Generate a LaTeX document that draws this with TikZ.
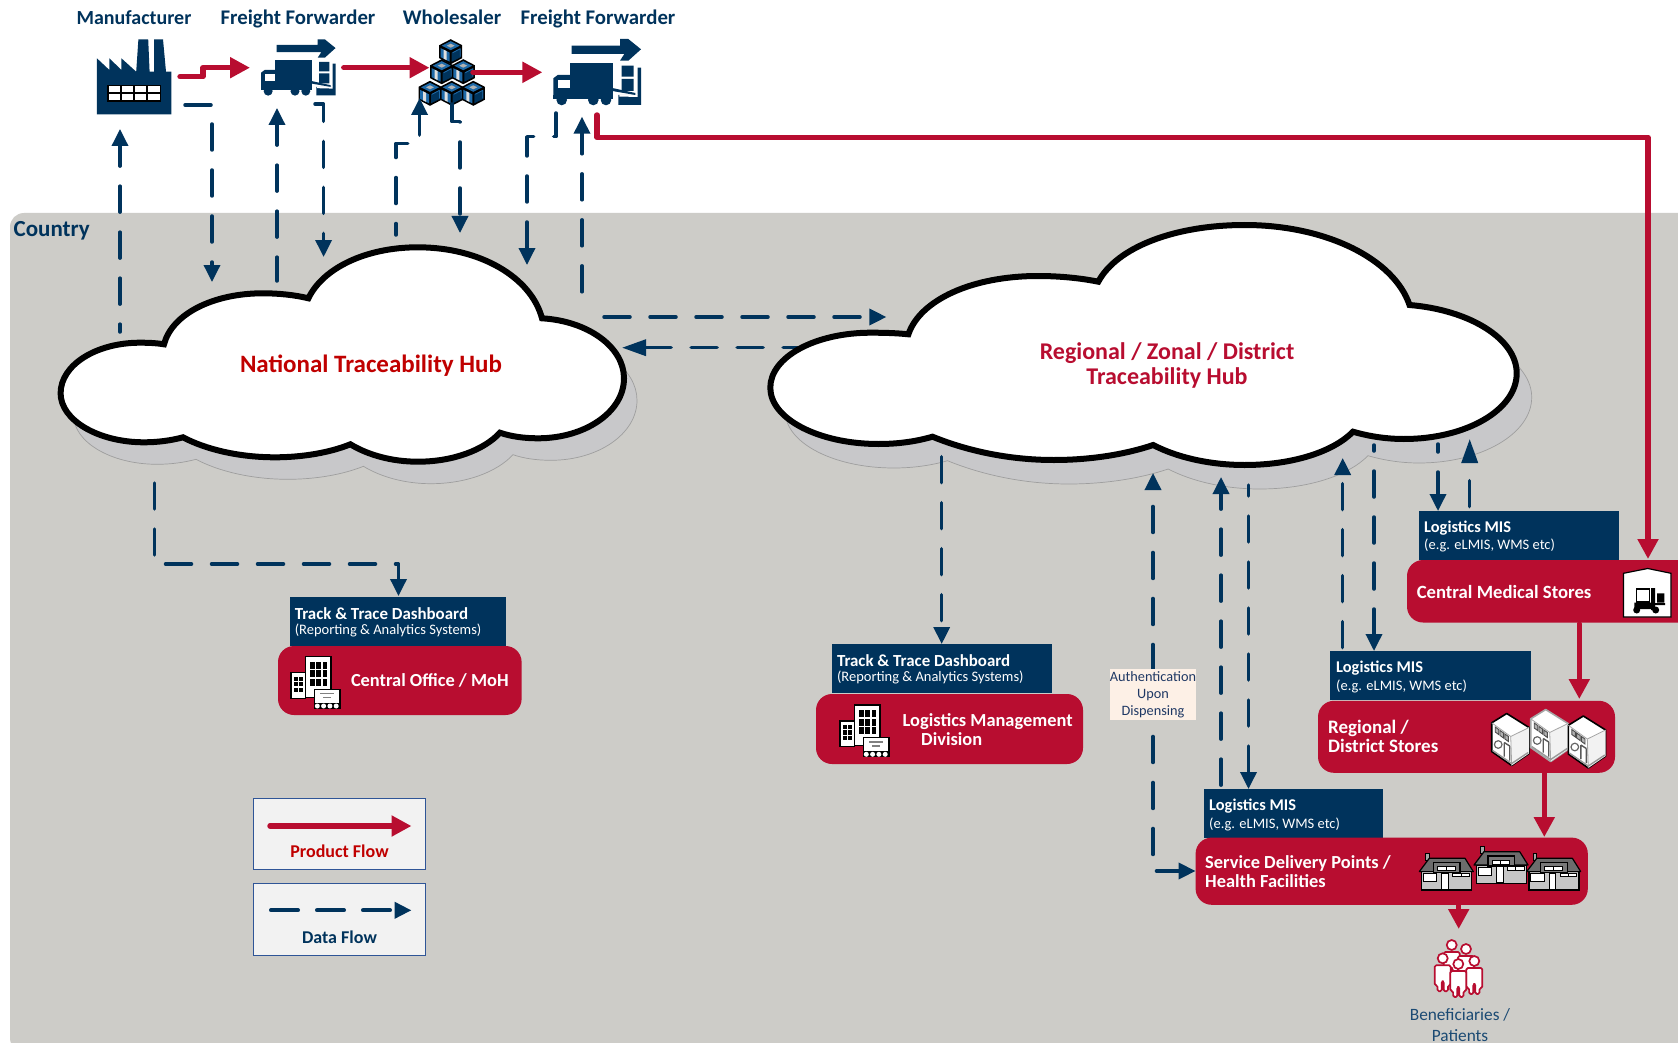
\documentclass[tikz,border=0pt]{standalone}
\usepackage{fontspec}
\setmainfont{Carlito}
\usetikzlibrary{arrows.meta}
\definecolor{navy}{HTML}{00335C}
\definecolor{crim}{HTML}{B80D30}
\definecolor{hubred}{HTML}{C00000}
\definecolor{bggray}{HTML}{CDCCC8}
\definecolor{shad}{HTML}{C8C8CA}
\definecolor{textblue}{HTML}{1F3864}
\definecolor{benblue}{HTML}{1B4A73}
\definecolor{authbg}{HTML}{FDF0E6}
\definecolor{legbg}{HTML}{F2F2F2}
\definecolor{legline}{HTML}{2F5597}
\definecolor{crateblue}{HTML}{1F6AA8}
\newcommand{\fs}[1]{\fontsize{#1}{#1}\selectfont}
\newcommand{\titlefs}{\bfseries\fontsize{16.9}{16.9}\selectfont}
\newcommand{\misfs}{\bfseries\fontsize{16.4}{16.4}\selectfont}
\newcommand{\subfs}{\mdseries\fontsize{14.5}{14.5}\selectfont}
\tikzset{
  x=1pt,y=-1pt,
  navyTip/.tip={Triangle[length=17pt,width=16pt]},
  longTip/.tip={Triangle[length=24pt,width=16pt]},
  redTip/.tip={Triangle[length=20pt,width=20pt]},
  dataflow/.style={draw=navy,line width=3.5pt,line cap=round,line join=round,dash pattern=on 26pt off 20pt},
  prodflow/.style={draw=crim,line width=5.4pt,line cap=round,line join=round},
  cornerbox/.style={anchor=north west,inner sep=0pt,outer sep=0pt},
  navybox/.style={cornerbox,fill=navy},
  redbox/.style={cornerbox,fill=crim,rounded corners=16pt},
  legbox/.style={cornerbox,fill=legbg,draw=legline,line width=1pt},
  toplabel/.style={inner sep=0pt,text=navy,font=\bfseries\fs{20.8}},
  boxtext/.style={anchor=west,inner sep=0pt,text=white,align=left},
  redtext/.style={anchor=west,inner sep=0pt,text=white,align=left,font=\bfseries\fontsize{18.4}{19}\selectfont},
  hubtext/.style={inner sep=0pt,align=center},
  cloudshadow/.style={fill=shad,draw=black!38,line width=.7pt},
  cloudface/.style={fill=white,draw=black,line width=6pt,miter limit=4}
}
% icons are drawn in local pixel coordinates
\newcommand{\truckicon}[3]{\begin{scope}[shift={(#1,#2)},scale=#3]
  \fill[navy] (18.4,6.7)--(66.7,6.7)--(66.7,0)--(75,0)--(87.7,10.3)--(75,21.7)--(66.7,21.7)--(71,15)--(18.4,15)--cycle;
  \fill[navy] (16.7,24.3) rectangle (60,57.7);
  \fill[navy] (0,57.7)--(0,39.3)--(4.4,36)--(16.7,36)--(16.7,57.7)--cycle;
  \fill[white] (5,41)--(16.7,41)--(16.7,49.3)--(5,49.3)--cycle;
  \fill[navy] (0,56) rectangle (60,60);
  \fill[navy] (8.4,61) circle (5.3) (40,61) circle (5.3) (52.7,61) circle (5.3);
  \fill[navy] (68.4,26.7) rectangle (80.4,37.7) (68.4,40) rectangle (80.4,52);
  \fill[navy] (84.4,28.7) rectangle (87.7,66) (65,56) rectangle (87.7,66);
  \fill[white] (66,55.5)--(84.4,55.5)--(84.4,58)--(66,57.5)--cycle;
  \fill[navy] (59,49)--(82,54)--(82,56)--(59,52)--cycle;
\end{scope}}
\newcommand{\crate}[2]{\begin{scope}[shift={(#1,#2)}]
  \fill[black] (0,-12.5)--(11.5,-6.5)--(11.5,6.5)--(0,12.5)--(-11.5,6.5)--(-11.5,-6.5)--cycle;
  \fill[crateblue] (0,-10.5)--(9,-6)--(0,-1.5)--(-9,-6)--cycle;
  \fill[gray!60] (0,-8)--(4,-6)--(0,-4)--(-4,-6)--cycle;
  \fill[crateblue] (-10,-3.5)--(-1,1)--(-1,10)--(-10,5.5)--cycle;
  \fill[gray!25] (-7,-2)--(-4,-.5)--(-4,8.5)--(-7,7)--cycle;
  \fill[navy] (1,1)--(10,-3.5)--(10,5.5)--(1,10)--cycle;
  \draw[crateblue,line width=.8pt] (2,1)--(9.5,-3) (9.5,-3)--(9.5,5);
\end{scope}}
\newcommand{\officeicon}[2]{\begin{scope}[shift={(#1,#2)}]
  \draw[fill=white,line width=1.5pt] (14.7,0) rectangle (40,40.6);
  \draw[fill=white,line width=1.5pt] (0,16) rectangle (14.7,41.6);
  \foreach \a in {19,25.3,31.6}\foreach \b in {5,13.7,22.4}{\fill[black] (\a,\b) rectangle +(4.6,7);}
  \foreach \a in {3,8}\foreach \b in {20,25.4,30.8}{\fill[black] (\a,\b) rectangle +(3.7,4.2);}
  \draw[fill=white,line width=1.5pt] (23.3,32.6) rectangle (49,46.6);
  \draw[gray,line width=1.4pt] (29,37)--(43,37) (32,41)--(40,41);
  \fill[black] (23,46) rectangle (49.5,51.8);
  \foreach \a in {26.3,32.6,38.9,45.2}{\fill[white] (\a,49.3) circle (2.5);}
\end{scope}}
\newcommand{\storeicon}[3]{\begin{scope}[shift={(#1,#2)}]
  \draw[fill=white,draw=#3,line width=1.6pt,line join=round] (15,0)--(37.3,14)--(37.3,40)--(20,52)--(0,38)--(0,9.3)--cycle;
  \fill[gray!10] (19,23)--(37.3,14)--(37.3,40)--(20,52)--cycle;
  \draw[gray!70,line width=.8pt] (0,9.3)--(19,23)--(37.3,14) (19,23)--(20,52);
  \foreach \a in {3.5,8.3,13.1}{\draw[black!70,line width=.9pt,fill=gray!60] (\a,{13.5+(\a-3.5)*.72}) -- ++(3.6,2.6) -- ++(0,5) -- ++(-3.6,-2.6)--cycle;}
  \draw[black!60,line width=1.2pt] (6.5,31) circle (3.8);
  \draw[black!65,line width=1.4pt] (12.5,29)--(12.5,43) (18,32.5)--(18,47) (12.5,29)--(18,32.5);
  \draw[gray!80,line width=1.4pt] (1,37)--(20,50)--(36.5,39);
\end{scope}}
\newcommand{\houseicon}[2]{\begin{scope}[shift={(#1,#2)}]
  \draw[fill=gray!70,line width=1pt] (6.3,0) rectangle (10,7);
  \draw[fill=gray!45,line width=1.2pt] (2.3,18.3) rectangle (52.3,36.7);
  \draw[fill=gray!85!black,line width=1.2pt,line join=round] (0,18.3)--(10,5)--(45.7,5)--(54,18.3)--cycle;
  \draw[fill=gray!95!black,line width=1.2pt] (14,9.3) rectangle (40.7,19.3);
  \draw[fill=white,line width=.8pt] (18,13.3) rectangle (35.7,17.3);
  \draw[line width=.8pt] (26.8,13.3)--(26.8,17.3);
  \draw[fill=white,line width=1pt] (4,20.5) rectangle (17.3,28.5);
  \draw[fill=white,line width=1pt] (22.3,20) rectangle (29,36);
  \draw[fill=white,line width=1pt] (33.3,19.8) rectangle (50,23.6);
  \draw[line width=.8pt] (41.6,19.8)--(41.6,23.6);
\end{scope}}
\newcommand{\personicon}[2]{\begin{scope}[shift={(#1,#2)}]
  \draw[crim,fill=white,line width=1.7pt,rounded corners=1.5pt,line join=round] (-8,7)--(8,7)--(8,27)--(5.2,27)--(5.2,33)--(1,33)--(1,23)--(-1,23)--(-1,33)--(-5.2,33)--(-5.2,27)--(-8,27)--cycle;
  \draw[crim,fill=white,line width=1.7pt] (0,0) circle (5);
\end{scope}}
\def\cloudA{(164,344.3) .. controls (156,343) and (148,342.7) .. (140,342.7) .. controls (96,342.7) and (60.6,365) .. (60.6,393.3) .. controls (60.6,420) and (98,442.3) .. (144,442.3) .. controls (158,442.3) and (171,440.5) .. (183,437.3) .. controls (205,449) and (238,457.3) .. (275,457.3) .. controls (303,457.3) and (330,452.5) .. (350.4,444.3) .. controls (368,455) and (392,461.7) .. (417.8,461.7) .. controls (453,461.7) and (484,450) .. (500,432.7) .. controls (511,436.5) and (524,438.3) .. (538,438.3) .. controls (585,438.3) and (624,412) .. (624,378.3) .. controls (624,347) and (588,321) .. (542,318.3) .. controls (531,277) and (480,247.3) .. (417.8,247.3) .. controls (366,247.3) and (323,268) .. (308.4,298.3) .. controls (295,295) and (279,293.3) .. (262.7,293.3) .. controls (213,293.3) and (172,314) .. (164,344.3) -- cycle}
\def\cloudB{(908.4,334.3) .. controls (896,333) and (883,332.7) .. (870.8,332.7) .. controls (815,332.7) and (770.3,357) .. (770.3,387.7) .. controls (770.3,419) and (819,444) .. (878.6,444) .. controls (898,444) and (916,441.5) .. (932.5,436.7) .. controls (965,450) and (1007,460) .. (1053.8,460) .. controls (1090,460) and (1125,454.5) .. (1153.2,445) .. controls (1176,457) and (1209,465) .. (1244.7,465) .. controls (1292,465) and (1333,452) .. (1353,431.7) .. controls (1368,436) and (1385,439) .. (1404,439) .. controls (1466,439) and (1516.7,410) .. (1516.7,373.3) .. controls (1516.7,339) and (1470,310) .. (1409.5,305) .. controls (1394,259) and (1326,225) .. (1244.7,225) .. controls (1175,225) and (1117,247) .. (1098.3,281.7) .. controls (1080,278) and (1059,276) .. (1038,276) .. controls (972,276) and (920,300) .. (908.4,334.3) -- cycle}
\begin{document}
\begin{tikzpicture}
\useasboundingbox (0,0) rectangle (1678,1043);
\clip (0,0) rectangle (1678,1043);
\fill[white] (0,0) rectangle (1678,1043);
\fill[bggray,rounded corners=14pt] (10,213) rectangle (1720,1052);
\node[anchor=west,inner sep=0pt,text=navy,font=\bfseries\fs{23}] (country) at (13.5,231) {Country};

% anchor points of the connectors
\coordinate (d1a) at (120,129); \coordinate (d1b) at (120,332);
\coordinate (d2a) at (185,105); \coordinate (d2c) at (212,105); \coordinate (d2b) at (212,282);
\coordinate (d3a) at (277,108); \coordinate (d3b) at (277,281);
\coordinate (d4a) at (315,104); \coordinate (d4c) at (323.6,104); \coordinate (d4b) at (323.6,257);
\coordinate (d5a) at (419.6,98); \coordinate (d5c) at (419.6,143.3); \coordinate (d5d) at (396,143.3); \coordinate (d5b) at (396,235);
\coordinate (d6a) at (452,104); \coordinate (d6c) at (452,121.7); \coordinate (d6d) at (460,121.7); \coordinate (d6b) at (460,233);
\coordinate (d7a) at (556,113); \coordinate (d7c) at (556,136.7); \coordinate (d7d) at (527,136.7); \coordinate (d7b) at (527,265);
\coordinate (d8a) at (582,116.7); \coordinate (d8b) at (582,296);
\coordinate (d9a) at (604,317); \coordinate (d9b) at (886.4,317);
\coordinate (d10a) at (622,347.7); \coordinate (d10b) at (800,347.7);
\coordinate (d11a) at (154.5,483); \coordinate (d11c) at (154.5,564); \coordinate (d11d) at (398.5,564); \coordinate (d11b) at (398.5,596);
\coordinate (d12a) at (941.7,456.7); \coordinate (d12b) at (941.7,644);
\coordinate (d13a) at (1195.6,871); \coordinate (d13c) at (1153,871); \coordinate (d13b) at (1153,473);
\coordinate (d14a) at (1221,477); \coordinate (d14b) at (1221,789);
\coordinate (d15a) at (1248.5,485); \coordinate (d15b) at (1248.5,789);
\coordinate (d16a) at (1342.7,458); \coordinate (d16b) at (1342.7,651);
\coordinate (d17a) at (1374,445); \coordinate (d17b) at (1374,651);
\coordinate (d18a) at (1438,444); \coordinate (d18b) at (1438,511);
\coordinate (d19a) at (1469.7,439); \coordinate (d19b) at (1469.7,511);
\coordinate (p1a) at (180,76.7); \coordinate (p1c) at (203,76.7); \coordinate (p1d) at (203,67.7); \coordinate (p1b) at (250,67.7);
\coordinate (p2a) at (343.8,67.7); \coordinate (p2b) at (429.5,67.7);
\coordinate (p3a) at (473,72.3); \coordinate (p3b) at (542.4,72.3);
\coordinate (p4a) at (597,115); \coordinate (p4c) at (597,137.3); \coordinate (p4d) at (1648,137.3); \coordinate (p4b) at (1648,559);
\coordinate (p5a) at (1579.3,624); \coordinate (p5b) at (1579.3,699);
\coordinate (p6a) at (1544.3,773); \coordinate (p6b) at (1544.3,837);
\coordinate (p7a) at (1458.7,905); \coordinate (p7b) at (1458.7,929);

% link drawn behind the regional hub
\draw[dataflow,longTip-] (d10a) -- (d10b);

% hubs
\draw[cloudshadow,shift={(13,22)}] \cloudA;
\draw[cloudface] \cloudA;
\draw[cloudshadow,shift={(15,24)}] \cloudB;
\draw[cloudface] \cloudB;
\node[hubtext,text=hubred,font=\bfseries\fontsize{25}{25}\selectfont] (hub1) at (371,366) {National Traceability Hub};
\node[hubtext,text=crim,font=\bfseries\fontsize{24}{25}\selectfont] (hub2) at (1167,365.5) {Regional / Zonal / District\\Traceability Hub};

% top labels
\node[toplabel,font=\bfseries\fs{20}] (lmfg) at (134,18) {Manufacturer};
\node[toplabel] (lff1) at (298,19) {Freight Forwarder};
\node[toplabel] (lwhl) at (452,17) {Wholesaler};
\node[toplabel] (lff2) at (598,19) {Freight Forwarder};

% factory
\fill[navy] (96.9,58.3)--(109.4,70)--(109.4,58.3)--(121.4,70)--(121.4,58.3)--(136.2,71.7)--(138.4,39.3)--(148.2,39.3)--(149.6,71.7)--(154,71.7)--(154,39.3)--(163,39.3)--(166,71.7)--(171.4,71.7)--(171.4,114.3)--(96.9,114.3)--cycle;
\fill[black] (107.1,85) rectangle (160.7,101.7);
\foreach \a in {108.6,121.8,135,148.2}\foreach \b in {86.5,94.3}{\fill[white] (\a,\b) rectangle +(11.4,6);}

% trucks and crates
\truckicon{261}{39.3}{.85}
\truckicon{553.3}{39}{1}
\crate{450.7}{51.7}
\crate{441.7}{71.7}\crate{463.3}{71.7}
\crate{430}{93.3}\crate{451.7}{93.3}\crate{473.3}{93.3}

% navy and red boxes
\node[navybox,minimum width=216.4pt,minimum height=49pt] (tt1) at (290,597) {};
\node[redbox,minimum width=243.6pt,minimum height=69pt] (co) at (278,646) {};
\node[boxtext] (tt1t) at (294.6,622.3) {\titlefs Track \& Trace Dashboard\\[3.2pt]\subfs (Reporting \& Analytics Systems)};
\node[redtext] (cot) at (350.8,680.7) {Central Office / MoH};
\officeicon{291}{656.7}

\node[navybox,minimum width=220.2pt,minimum height=49pt] (tt2) at (832,644) {};
\node[redbox,minimum width=267pt,minimum height=70pt] (lmd) at (816,694) {};
\node[boxtext] (tt2t) at (836.8,669.3) {\titlefs Track \& Trace Dashboard\\[3.2pt]\subfs (Reporting \& Analytics Systems)};
\node[redtext] (lmdt) at (902.5,730) {Logistics Management\\\hspace*{18.5pt}Division};
\officeicon{840}{705}

\node[navybox,minimum width=200pt,minimum height=49pt] (mis1) at (1418.5,511) {};
\node[redbox,minimum width=290pt,minimum height=62.5pt] (cms) at (1407,560) {};
\node[boxtext] (mis1t) at (1424,536.7) {\misfs Logistics MIS\\[2.4pt]\subfs (e.g. eLMIS, WMS etc)};
\node[redtext,font=\bfseries\fontsize{18.7}{19}\selectfont] (cmst) at (1416.6,591.7) {Central Medical Stores};
\draw[fill=white,line width=1.2pt,line join=miter] (1623.5,573.3)--(1647.7,568.5)--(1671,573.3)--(1671,617)--(1623.5,617)--cycle;
\draw[black,line width=1.8pt] (1636.5,589) rectangle (1649.5,602);
\fill[black] (1651,588) rectangle (1655,610) (1657,593.3) rectangle (1664.3,602.7) (1634.3,602.7) rectangle (1655,609) (1655,603) rectangle (1665,605);
\fill[black] (1636.7,610) circle (3.5) (1655.7,610) circle (3.5);

\node[navybox,minimum width=200.3pt,minimum height=49pt] (mis2) at (1330.3,651) {};
\node[redbox,minimum width=297pt,minimum height=72pt] (rds) at (1318,700.8) {};
\node[boxtext] (mis2t) at (1336,676.7) {\misfs Logistics MIS\\[4pt]\subfs (e.g. eLMIS, WMS etc)};
\node[redtext,font=\bfseries\fontsize{19}{19}\selectfont] (rdst) at (1328,736.3) {Regional /\\District Stores};
\storeicon{1491.7}{713.5}{black}
\storeicon{1530.7}{709.5}{gray!70}
\storeicon{1568.3}{716}{black}

\node[navybox,minimum width=179.4pt,minimum height=49pt] (mis3) at (1204,789) {};
\node[redbox,minimum width=392.2pt,minimum height=67.2pt] (sdp) at (1195.6,837.6) {};
\node[boxtext] (mis3t) at (1209,814.7) {\misfs Logistics MIS\\[4pt]\subfs (e.g. eLMIS, WMS etc)};
\node[redtext] (sdpt) at (1205,871.3) {Service Delivery Points /\\Health Facilities};
\houseicon{1474}{846.7}
\houseicon{1419.3}{853.3}
\houseicon{1526.7}{853.3}

% beneficiaries
\personicon{1451.7}{945}\personicon{1466}{949}
\personicon{1442.7}{958.3}\personicon{1474.3}{961}
\personicon{1458.3}{964}
\node[inner sep=0pt,align=center,text=benblue,font=\fontsize{17.3}{21}\selectfont] (ben) at (1460,1025.5) {Beneficiaries /\\Patients};

% legend
\node[legbox,minimum width=171.4pt,minimum height=71pt] (leg1) at (253.6,798.3) {};
\node[legbox,minimum width=171.9pt,minimum height=72.3pt] (leg2) at (253.6,883) {};
\coordinate (l1a) at (270,826); \coordinate (l1b) at (411.5,826);
\coordinate (l2a) at (271,910.3); \coordinate (l2b) at (411.5,910.3);
\draw[prodflow,-redTip] (l1a) -- (l1b);
\draw[dataflow,line width=4pt,dash pattern=on 27pt off 19pt,-navyTip] (l2a) -- (l2b);
\node[inner sep=0pt,text=hubred,font=\bfseries\fs{18}] (lp) at (339.5,851.5) {Product Flow};
\node[inner sep=0pt,text=navy,font=\bfseries\fs{18}] (ld) at (339.5,937.5) {Data Flow};

% data flow connectors
\draw[dataflow,dash phase=5pt,navyTip-] (d1a) -- (d1b);
\draw[dataflow,-navyTip] (d2a) -- (d2c) -- (d2b);
\draw[dataflow,dash phase=5pt,navyTip-] (d3a) -- (d3b);
\draw[dataflow,-navyTip] (d4a) -- (d4c) -- (d4b);
\draw[dataflow,dash phase=5pt,navyTip-] (d5a) -- (d5c) -- (d5d) -- (d5b);
\draw[dataflow,-navyTip] (d6a) -- (d6c) -- (d6d) -- (d6b);
\draw[dataflow,-navyTip] (d7a) -- (d7c) -- (d7d) -- (d7b);
\draw[dataflow,dash phase=5pt,navyTip-] (d8a) -- (d8b);
\draw[dataflow,-navyTip] (d9a) -- (d9b);
\draw[dataflow,-navyTip] (d11a) -- (d11c) -- (d11d) -- (d11b);
\draw[dataflow,-navyTip] (d12a) -- (d12b);
\draw[dataflow,dash phase=3pt,navyTip-navyTip] (d13a) -- (d13c) -- (d13b);
\draw[dataflow,dash phase=10pt,navyTip-] (d14a) -- (d14b);
\draw[dataflow,dash phase=15pt,-navyTip] (d15a) -- (d15b);
\draw[dataflow,dash phase=36.5pt,navyTip-] (d16a) -- (d16b);
\draw[dataflow,dash phase=20pt,-navyTip] (d17a) -- (d17b);
\draw[dataflow,dash phase=18pt,-navyTip] (d18a) -- (d18b);
\draw[dataflow,dash phase=27.5pt,longTip-] (d19a) -- (d19b);

% authentication label
\node[inner sep=0pt,fill=authbg,text=textblue,minimum width=86pt,minimum height=51.5pt,align=center,font=\fontsize{14.3}{17}\selectfont] (auth) at (1153,694.7) {Authentication\\Upon\\Dispensing};

% product flow connectors
\draw[prodflow,-redTip] (p1a) -- (p1c) -- (p1d) -- (p1b);
\draw[prodflow,-redTip] (p2a) -- (p2b);
\draw[prodflow,-redTip] (p3a) -- (p3b);
\draw[prodflow,-redTip] (p4a) -- (p4c) -- (p4d) -- (p4b);
\draw[prodflow,-redTip] (p5a) -- (p5b);
\draw[prodflow,-redTip] (p6a) -- (p6b);
\draw[prodflow,-redTip] (p7a) -- (p7b);
\end{tikzpicture}
\end{document}
